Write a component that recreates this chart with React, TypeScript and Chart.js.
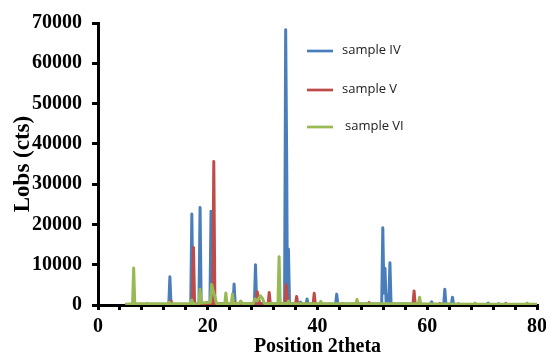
import { useEffect, useRef } from 'react';
import { Chart, registerables } from 'chart.js';

Chart.register(...registerables);

// ---- Data ----
const seriesNames = ['sample IV', 'sample V', 'sample VI'];
const seriesColors = ['#4A7EBB', '#BE4B48', '#98B954'];

const twoThetaIV = [5.0, 8.8, 9.0, 9.2, 12.9, 13.1, 13.3, 16.9, 17.1, 17.3, 18.4, 18.6, 18.8, 20.4, 20.6, 20.8,
  24.6, 24.8, 25.0, 28.5, 28.7, 28.9, 34.0, 34.2, 34.4, 34.5, 34.7, 34.9, 36.7, 36.9, 37.1, 37.9, 38.1, 38.3,
  43.3, 43.5, 43.7, 51.7, 51.9, 52.1, 52.3, 52.5, 52.8, 53.0, 53.2, 53.4, 60.6, 60.8, 61.0, 63.0, 63.2, 63.4,
  64.4, 64.6, 64.8, 65.5, 65.7, 65.9, 70.9, 71.1, 71.3, 72.8, 73.0, 73.2, 80.0];
const countsIV = [100, 100, 350, 100, 150, 7000, 150, 200, 22600, 300, 300, 24200, 300, 300, 23300, 400,
  200, 5200, 200, 300, 10000, 400, 400, 68300, 32700, 3000, 13900, 300, 200, 700, 200, 200, 1500, 200,
  200, 2700, 200, 300, 19200, 3000, 9100, 800, 2500, 800, 10500, 300, 150, 800, 150, 200, 3900, 200,
  200, 1900, 200, 100, 300, 100, 100, 500, 100, 100, 300, 100, 100];

const twoThetaV = [5.0, 13.1, 13.3, 13.5, 17.2, 17.4, 17.6, 20.9, 21.1, 21.3, 24.7, 24.9, 25.1, 28.8, 29.0, 29.3,
  29.5, 31.0, 31.2, 31.4, 34.1, 34.3, 34.6, 36.0, 36.2, 36.4, 39.2, 39.4, 39.6, 44.3, 44.5, 44.7, 49.2, 49.4,
  49.6, 57.4, 57.6, 57.8, 62.1, 62.3, 62.5, 74.1, 74.3, 74.5, 80.0];
const countsV = [100, 100, 1000, 100, 200, 14300, 200, 300, 35600, 300, 150, 800, 150, 200, 3300, 1500,
  200, 200, 3100, 200, 300, 5000, 200, 200, 2100, 200, 200, 2900, 200, 100, 300, 100, 150, 600,
  150, 150, 3500, 150, 100, 400, 100, 100, 400, 100, 100];

const twoThetaVI = [5.0, 6.3, 6.5, 6.7, 12.8, 13.0, 13.2, 16.8, 17.1, 17.3, 18.4, 18.6, 18.8, 20.5, 20.7, 20.9,
  21.3, 21.6, 23.1, 23.3, 23.5, 24.3, 24.5, 24.7, 25.8, 26.0, 26.3, 28.3, 28.6, 29.0, 29.6, 30.0, 30.3, 32.8,
  33.0, 33.2, 34.5, 34.7, 34.9, 40.4, 40.6, 40.8, 47.0, 47.2, 47.4, 58.4, 58.6, 58.8, 68.5, 68.7, 68.9,
  78.0, 78.2, 78.4, 80.0];
const countsVI = [200, 300, 9200, 300, 300, 700, 300, 300, 1200, 300, 400, 3900, 500, 700, 5100, 4000,
  2000, 400, 300, 3000, 300, 300, 2700, 400, 400, 1000, 400, 400, 1500, 1000, 2300, 1600, 400, 400,
  12000, 400, 400, 1000, 400, 300, 900, 300, 300, 1400, 300, 300, 1900, 300, 200, 500, 200,
  200, 500, 200, 200];

const xLabelValues = [0, 20, 40, 60, 80];
const xTickStep = 4;
const yMax = 70000;
const yTickStep = 10000;

const toPoints = (xs: number[], ys: number[]) => xs.map((x, i) => ({ x, y: ys[i] }));

const legendPlugin = {
  id: 'insideLegend',
  afterDraw(chart: any) {
    const ctx = chart.ctx;
    const rows = [
      { y: 51, tx: 342 },
      { y: 90, tx: 342 },
      { y: 127, tx: 345 },
    ];
    ctx.save();
    chart.data.datasets.forEach((ds: any, i: number) => {
      const r = rows[i];
      ctx.strokeStyle = ds.borderColor;
      ctx.lineWidth = 2.7;
      ctx.lineCap = 'butt';
      ctx.beginPath();
      ctx.moveTo(307, r.y);
      ctx.lineTo(333, r.y);
      ctx.stroke();
      ctx.fillStyle = '#222';
      ctx.font = '13px "Open Sans"';
      ctx.textAlign = 'left';
      ctx.textBaseline = 'middle';
      ctx.fillText(ds.label, r.tx, r.y - 1);
    });
    ctx.restore();
  },
};

export default function App() {
  const canvasRef = useRef<HTMLCanvasElement | null>(null);

  useEffect(() => {
    document.body.style.margin = '0';
    const canvas = canvasRef.current;
    if (!canvas) return;
    const serif = '"Liberation Serif", "Times New Roman", serif';
    const chart = new Chart(canvas, {
      type: 'line',
      data: {
        datasets: [
          { label: seriesNames[0], data: toPoints(twoThetaIV, countsIV), borderColor: seriesColors[0], order: 2 },
          { label: seriesNames[1], data: toPoints(twoThetaV, countsV), borderColor: seriesColors[1], order: 1 },
          { label: seriesNames[2], data: toPoints(twoThetaVI, countsVI), borderColor: seriesColors[2], order: 0 },
        ].map((d) => ({
          ...d,
          borderWidth: 3,
          pointRadius: 0,
          tension: 0,
          fill: false,
          borderJoinStyle: 'round' as const,
        })),
      },
      options: {
        responsive: false,
        animation: false,
        devicePixelRatio: 1,
        layout: { padding: { top: 23, right: 9, left: 0, bottom: 0 } },
        plugins: {
          legend: { display: false },
          tooltip: { enabled: false },
        },
        scales: {
          x: {
            type: 'linear',
            min: 0,
            max: 80,
            afterFit: (scale: any) => {
              scale.height = 54;
              scale.paddingLeft = 0;
              scale.paddingRight = 0;
            },
            border: { display: true, color: '#000', width: 3 },
            grid: { display: true, drawOnChartArea: false, drawTicks: true, tickLength: 5, color: '#000', lineWidth: 3 },
            ticks: {
              stepSize: xTickStep,
              autoSkip: false,
              maxRotation: 0,
              padding: 5,
              color: '#000',
              font: { family: serif, size: 20, weight: 'bold' },
              callback: (v: any) => (xLabelValues.includes(Number(v)) ? String(v) : ''),
            },
            title: {
              display: true,
              text: 'Position 2theta',
              color: '#000',
              padding: { top: 0, bottom: 0 },
              font: { family: serif, size: 20, weight: 'bold' },
            },
          },
          y: {
            type: 'linear',
            min: 0,
            max: yMax,
            afterFit: (scale: any) => { scale.width = 98; },
            border: { display: true, color: '#000', width: 3 },
            grid: { display: true, drawOnChartArea: false, drawTicks: true, tickLength: 6, color: '#000', lineWidth: 3 },
            ticks: {
              stepSize: yTickStep,
              padding: 10,
              color: '#000',
              font: { family: serif, size: 20, weight: 'bold' },
              callback: (v: any) => String(v),
            },
            title: {
              display: true,
              text: 'Lobs (cts)',
              color: '#000',
              padding: { top: 9, bottom: 0 },
              font: { family: serif, size: 23, weight: 'bold' },
            },
          },
        },
      },
      plugins: [legendPlugin],
    });
    return () => chart.destroy();
  }, []);

  return (
    <div style={{ position: 'absolute', left: 0, top: 0, width: 546, height: 359, background: '#fff' }}>
      <canvas ref={canvasRef} width={546} height={359} />
    </div>
  );
}
